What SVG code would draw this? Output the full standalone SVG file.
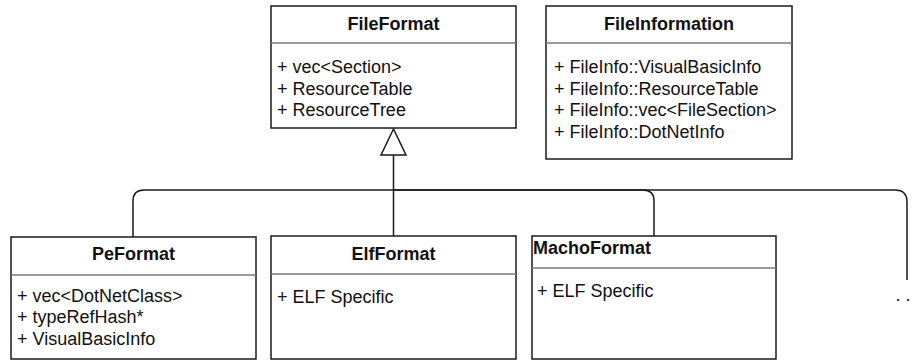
<svg xmlns="http://www.w3.org/2000/svg" width="912" height="360" viewBox="0 0 912 360">
  <style>
    .box { fill: #ffffff; stroke: #1a1a1a; stroke-width: 1.5; }
    .div { stroke: #7a7a7a; stroke-width: 1.5; }
    .title { font-family: "Liberation Sans", Arial, sans-serif; font-size: 18px; font-weight: bold; fill: #111; }
    .attr { font-family: "Liberation Sans", Arial, sans-serif; font-size: 18px; fill: #111; }
    .edge { fill: none; stroke: #1a1a1a; stroke-width: 1.5; }
  </style>
  <rect width="912" height="360" fill="#ffffff"/>

  <!-- inheritance connectors -->
  <g id="connectors">
    <path class="edge" d="M133,237 V201 Q133,190 144,190 H393.5"/>
    <path class="edge" d="M654,236 V201 Q654,190 643,190 H393.5"/>
    <path class="edge" d="M907,280 V202 Q907,190 895,190 H393.5"/>
    <path class="edge" d="M393.5,236 V155"/>
    <polygon class="edge" style="fill:#ffffff" points="393.5,129 381,155 406,155"/>
  </g>

  <g id="FileFormat">
    <rect class="box" x="271" y="6" width="245" height="122"/>
    <line class="div" x1="271" y1="43" x2="516" y2="43"/>
    <text class="title" x="393.5" y="30" text-anchor="middle">FileFormat</text>
    <text class="attr" x="277" y="73">+ vec&lt;Section&gt;</text>
    <text class="attr" x="277" y="94.5">+ ResourceTable</text>
    <text class="attr" x="277" y="116">+ ResourceTree</text>
  </g>

  <g id="FileInformation">
    <rect class="box" x="546" y="6" width="246" height="153"/>
    <line class="div" x1="546" y1="43" x2="792" y2="43"/>
    <text class="title" x="669" y="30" text-anchor="middle">FileInformation</text>
    <text class="attr" x="554" y="73">+ FileInfo::VisualBasicInfo</text>
    <text class="attr" x="554" y="94.5">+ FileInfo::ResourceTable</text>
    <text class="attr" x="554" y="116">+ FileInfo::vec&lt;FileSection&gt;</text>
    <text class="attr" x="554" y="137.5">+ FileInfo::DotNetInfo</text>
  </g>

  <g id="PeFormat">
    <rect class="box" x="11" y="237" width="245" height="122"/>
    <line class="div" x1="11" y1="275" x2="256" y2="275"/>
    <text class="title" x="133.5" y="260" text-anchor="middle">PeFormat</text>
    <text class="attr" x="17" y="301.5">+ vec&lt;DotNetClass&gt;</text>
    <text class="attr" x="17" y="323">+ typeRefHash*</text>
    <text class="attr" x="17" y="344.5">+ VisualBasicInfo</text>
  </g>

  <g id="ElfFormat">
    <rect class="box" x="271" y="236" width="245" height="123"/>
    <line class="div" x1="271" y1="274" x2="516" y2="274"/>
    <text class="title" x="393.5" y="260" text-anchor="middle">ElfFormat</text>
    <text class="attr" x="277" y="302.5">+ ELF Specific</text>
  </g>

  <g id="MachoFormat">
    <rect class="box" x="532" y="236" width="244" height="123"/>
    <line class="div" x1="532" y1="268" x2="776" y2="268"/>
    <text class="title" x="533" y="254">MachoFormat</text>
    <text class="attr" x="537" y="296.5">+ ELF Specific</text>
  </g>

  <g id="more">
    <text class="attr" x="895.5" y="301">. .</text>
  </g>
</svg>
